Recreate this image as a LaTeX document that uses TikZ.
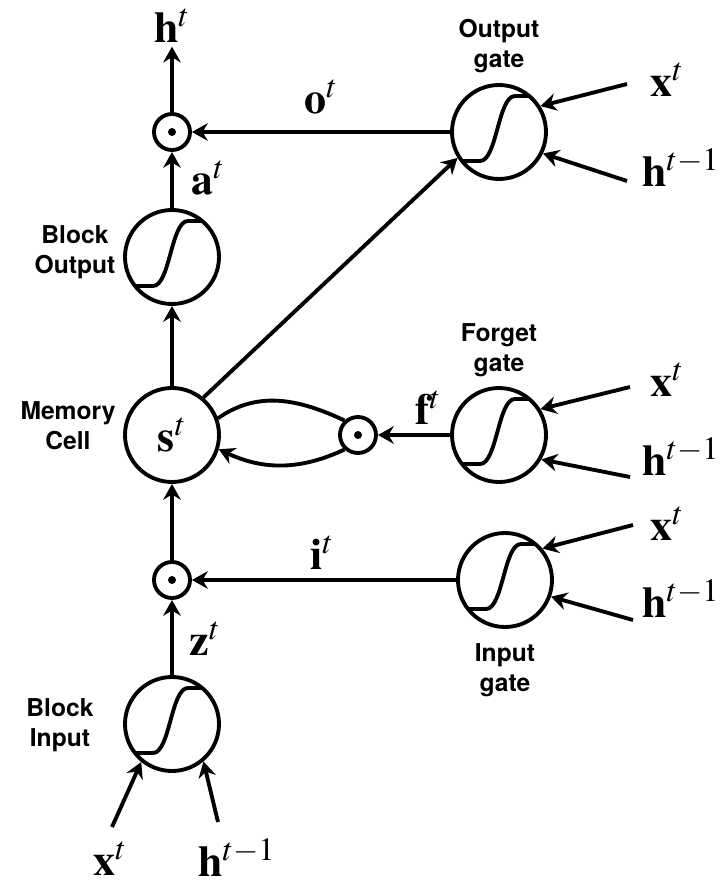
\documentclass[tikz,border=0pt]{standalone}
\usepackage[no-math]{fontspec}
\usepackage{mathptmx}
\setmainfont{Liberation Serif}
\newfontfamily\lblfont{TeX Gyre Heros}
\usepackage{tikz}
\usetikzlibrary{arrows.meta,shapes}
\tikzstyle{gate} = [circle, draw, line width=2.2pt, minimum size=1.88cm, inner sep=0pt,
    path picture={\draw[line width=2.2pt] ([shift={(-1,-0.58)}]path picture bounding box.center)
    -- ++(0.62,0) .. controls +(0.34,0) and +(-0.34,0) .. ++(0.7,1.3) -- ++(0.7,0);}]
\tikzstyle{cell} = [circle, draw, line width=2.2pt, minimum size=1.88cm, inner sep=0pt,
    font=\fontsize{25}{30}\selectfont]
\tikzstyle{mult} = [circle, draw, line width=2.2pt, minimum size=0.72cm, inner sep=0pt,
    path picture={\fill (path picture bounding box.center) circle (0.08);}]
\tikzstyle{var} = [font=\fontsize{25}{30}\selectfont, inner sep=2pt]
\tikzstyle{lbl} = [font=\lblfont\bfseries\fontsize{14}{17}\selectfont, align=center]
\tikzstyle{line} = [draw, line width=2.2pt, -{Stealth[length=9pt, width=10pt, inset=3pt]}]
\tikzstyle{plain} = [draw, line width=2.2pt]

\begin{document}
\begin{tikzpicture}
    \useasboundingbox (-3.44,-9.02) rectangle (11.02,8.7);
    % Place nodes
    \node [cell] (cell) {$\mathbf{s}^t$};
    \node [gate, above of=cell, node distance=3.56cm] (blockOut) {};
    \node [mult, above of=blockOut, node distance=2.5cm] (multOut) {};
    \node [mult, below of=cell, node distance=2.9cm] (multIn) {};
    \node [gate, below of=multIn, node distance=2.88cm] (blockIn) {};
    \node [mult, right of=cell, node distance=3.72cm] (multForget) {};
    \node [gate, right of=cell, node distance=6.54cm] (forgetGate) {};
    \node [gate, right of=multOut, node distance=6.54cm] (outGate) {};
    \node [gate, right of=multIn, node distance=6.66cm] (inGate) {};

    % Labels
    \node [var, above of=multOut, node distance=2.12cm] (ht) {$\mathbf{h}^t$};
    \node [var] (at) at (0.72,5.14) {$\mathbf{a}^t$};
    \node [var] (ot) at (2.98,6.76) {$\mathbf{o}^t$};
    \node [var] (ft) at (5.12,0.54) {$\mathbf{f}^t$};
    \node [var] (it) at (3.0,-2.36) {$\mathbf{i}^t$};
    \node [var] (zt) at (0.66,-4.08) {$\mathbf{z}^t$};
    \node [lbl] (blockOutLbl) at (-1.94,3.66) {Block\\Output};
    \node [lbl] (cellLbl) at (-2.08,0.18) {Memory\\Cell};
    \node [lbl] (blockInLbl) at (-2.24,-5.8) {Block\\Input};
    \node [lbl, above of=outGate, node distance=1.72cm] (outLbl) {Output\\gate};
    \node [lbl, above of=forgetGate, node distance=1.7cm] (forgetLbl) {Forget\\gate};
    \node [lbl, below of=inGate, node distance=1.8cm] (inLbl) {Input\\gate};

    % Gate inputs
    \node [var] (oX) at ([shift={(3.36,1.04)}]outGate) {$\mathbf{x}^t$};
    \node [var] (oH) at ([shift={(3.64,-0.72)}]outGate) {$\mathbf{h}^{t-1}$};
    \node [var] (fX) at ([shift={(3.36,1.1)}]forgetGate) {$\mathbf{x}^t$};
    \node [var] (fH) at ([shift={(3.64,-0.44)}]forgetGate) {$\mathbf{h}^{t-1}$};
    \node [var] (iX) at ([shift={(3.24,1.12)}]inGate) {$\mathbf{x}^t$};
    \node [var] (iH) at ([shift={(3.52,-0.38)}]inGate) {$\mathbf{h}^{t-1}$};
    \node [var] (bX) at ([shift={(-1.24,-2.7)}]blockIn) {$\mathbf{x}^t$};
    \node [var] (bH) at ([shift={(1.3,-2.68)}]blockIn) {$\mathbf{h}^{t-1}$};
    \coordinate (oXs) at ([shift={(2.56,0.96)}]outGate);
    \coordinate (oHs) at ([shift={(2.56,-0.98)}]outGate);
    \coordinate (fXs) at ([shift={(2.62,0.96)}]forgetGate);
    \coordinate (fHs) at ([shift={(2.62,-0.84)}]forgetGate);
    \coordinate (iXs) at ([shift={(2.56,1.1)}]inGate);
    \coordinate (iHs) at ([shift={(2.56,-0.8)}]inGate);
    \coordinate (bXs) at ([shift={(-1.2,-2.06)}]blockIn);
    \coordinate (bHs) at ([shift={(0.92,-1.96)}]blockIn);

    % Draw edges
    \path [line] (blockIn) -- (multIn);
    \path [line] (multIn) -- (cell);
    \path [line] (cell) -- (blockOut);
    \path [line] (blockOut) -- (multOut);
    \path [line] (multOut.north) -- (multOut.north |- ht.south);
    \path [line] (outGate) -- (multOut);
    \path [line] (forgetGate) -- (multForget);
    \path [line] (inGate) -- (multIn);
    \path [line] (cell.50) -- (outGate.212);
    \path [plain] (cell.20) to [out=35, in=155] (multForget.133);
    \path [line] (multForget.-133) to [out=-155, in=-25] (cell.-17);

    \path [line] (oXs) -- (outGate.32);
    \path [line] (oHs) -- (outGate.-26);
    \path [line] (fXs) -- (forgetGate.32);
    \path [line] (fHs) -- (forgetGate.-30);
    \path [line] (iXs) -- (inGate.40);
    \path [line] (iHs) -- (inGate.-20);
    \path [line] (bXs) -- (blockIn.-129);
    \path [line] (bHs) -- (blockIn.-50);
\end{tikzpicture}
\end{document}
